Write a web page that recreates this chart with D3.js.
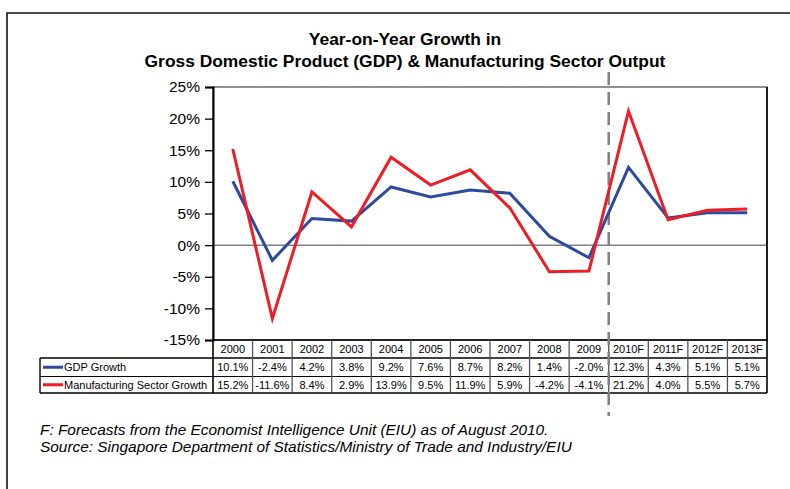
<!DOCTYPE html>
<html>
<head>
<meta charset="utf-8">
<script src="https://cdn.jsdelivr.net/npm/d3@7"></script>
<style>
  html, body { margin: 0; padding: 0; background: #fff; }
  svg { display: block; font-family: Arial, "Liberation Sans", sans-serif; }
</style>
</head>
<body>
<svg id="chart" width="790" height="489"></svg>
<script>
const categories = ["2000","2001","2002","2003","2004","2005","2006","2007","2008","2009","2010F","2011F","2012F","2013F"];
const gdpGrowth = [10.1, -2.4, 4.2, 3.8, 9.2, 7.6, 8.7, 8.2, 1.4, -2.0, 12.3, 4.3, 5.1, 5.1];
const mfgGrowth = [15.2, -11.6, 8.4, 2.9, 13.9, 9.5, 11.9, 5.9, -4.2, -4.1, 21.2, 4.0, 5.5, 5.7];
const seriesNames = ["GDP Growth", "Manufacturing Sector Growth"];
const yTicks = [-15, -10, -5, 0, 5, 10, 15, 20, 25];
const titleLines = ["Year-on-Year Growth in", "Gross Domestic Product (GDP) & Manufacturing Sector Output"];
const footnotes = ["F: Forecasts from the Economist Intelligence Unit (EIU) as of August 2010.",
                   "Source: Singapore Department of Statistics/Ministry of Trade and Industry/EIU"];
const forecastStart = "2010F";

const colors = ["#2E4A9E", "#EE1C25"];
const series = [gdpGrowth, mfgGrowth];

const svg = d3.select("#chart");
const L = 213, R = 767, T = 87, B = 340;

// outer frame (top and left edges)
svg.append("path").attr("d", "M7,489V13H790").attr("fill", "none").attr("stroke", "#111").attr("stroke-width", 1.6);

// title
svg.append("g").selectAll("text").data(titleLines).join("text")
  .attr("x", 405).attr("y", (d, i) => 45 + i * 21.5)
  .attr("text-anchor", "middle").attr("font-weight", "bold").attr("font-size", 17.4)
  .attr("fill", "#000").text(d => d);

const x = d3.scaleBand().domain(categories).range([L, R]).padding(0);
const y = d3.scaleLinear().domain([-15, 25]).range([B, T]);

// plot border
svg.append("rect").attr("x", L).attr("y", T).attr("width", R - L).attr("height", B - T)
  .attr("fill", "none").attr("stroke", "#555").attr("stroke-width", 1.3);

// zero line
svg.append("line").attr("x1", L).attr("x2", R).attr("y1", y(0)).attr("y2", y(0))
  .attr("stroke", "#808080").attr("stroke-width", 1.5);

// y axis
const yAxis = d3.axisLeft(y).tickValues(yTicks).tickFormat(d => d + "%").tickSize(8).tickPadding(5);
const gy = svg.append("g").attr("transform", `translate(${L},0)`).call(yAxis);
gy.select(".domain").attr("stroke", "#000").attr("stroke-width", 2);
gy.selectAll(".tick line").attr("stroke", "#000").attr("stroke-width", 1.3);
gy.selectAll(".tick text").attr("font-size", 15.5).attr("fill", "#000").attr("font-family", "Arial, 'Liberation Sans', sans-serif");

// data table
const rowTops = [340, 358, 376.5, 393];
const legL = 40;
const tbl = svg.append("g");
tbl.selectAll("text.hdr").data(categories).join("text").attr("class", "hdr")
  .attr("x", d => x(d) + x.bandwidth() / 2).attr("y", (rowTops[0] + rowTops[1]) / 2 + 4)
  .attr("text-anchor", "middle").attr("font-size", 11).attr("fill", "#000").text(d => d);
series.forEach((vals, si) => {
  const cy = (rowTops[si + 1] + rowTops[si + 2]) / 2;
  tbl.selectAll("text.v" + si).data(vals).join("text").attr("class", "v" + si)
    .attr("x", (d, i) => x(categories[i]) + x.bandwidth() / 2).attr("y", cy + 4)
    .attr("text-anchor", "middle").attr("font-size", 11).attr("fill", "#000")
    .text(d => d.toFixed(1) + "%");
  tbl.append("line").attr("x1", 43).attr("x2", 63).attr("y1", cy).attr("y2", cy)
    .attr("stroke", colors[si]).attr("stroke-width", 3);
  tbl.append("text").attr("x", 64).attr("y", cy + 4).attr("font-size", 11).attr("fill", "#000").text(seriesNames[si]);
});
tbl.append("line").attr("x1", L).attr("x2", R).attr("y1", rowTops[0]).attr("y2", rowTops[0]).attr("stroke", "#000").attr("stroke-width", 1.6);
[1, 2, 3].forEach(k => {
  tbl.append("line").attr("x1", legL).attr("x2", R).attr("y1", rowTops[k]).attr("y2", rowTops[k])
    .attr("stroke", "#000").attr("stroke-width", k === 2 ? 1.2 : 1.4);
});
categories.forEach((c, i) => {
  if (i === 0) return;
  tbl.append("line").attr("x1", x(c)).attr("x2", x(c)).attr("y1", rowTops[0]).attr("y2", rowTops[3])
    .attr("stroke", "#555").attr("stroke-width", 1.3);
});
tbl.append("line").attr("x1", L).attr("x2", L).attr("y1", rowTops[0]).attr("y2", rowTops[3]).attr("stroke", "#000").attr("stroke-width", 1.6);
tbl.append("line").attr("x1", R).attr("x2", R).attr("y1", T).attr("y2", rowTops[3]).attr("stroke", "#000").attr("stroke-width", 1.6);
tbl.append("line").attr("x1", legL).attr("x2", legL).attr("y1", rowTops[1]).attr("y2", rowTops[3]).attr("stroke", "#000").attr("stroke-width", 1.4);

// forecast dashed divider
const fx = x(forecastStart);
svg.append("line").attr("x1", fx).attr("x2", fx).attr("y1", 72).attr("y2", 416)
  .attr("stroke", "#808080").attr("stroke-width", 2.5).attr("stroke-dasharray", "13,7");

// lines
const line = d3.line().x((d, i) => x(categories[i]) + x.bandwidth() / 2).y(d => y(d));
series.forEach((vals, si) => {
  svg.append("path").datum(vals).attr("d", line).attr("fill", "none")
    .attr("stroke", colors[si]).attr("stroke-width", 3).attr("stroke-linejoin", "miter");
});

// footnotes
svg.append("g").selectAll("text").data(footnotes).join("text")
  .attr("x", 40).attr("y", (d, i) => 435 + i * 17).attr("font-size", 15.4).attr("font-style", "italic")
  .attr("fill", "#000").text(d => d);
</script>
</body>
</html>
